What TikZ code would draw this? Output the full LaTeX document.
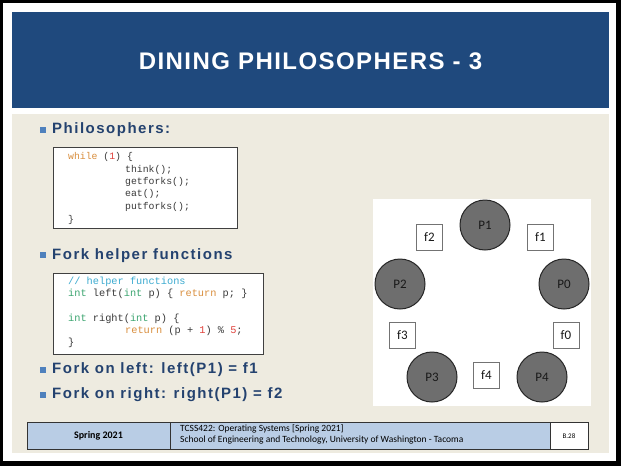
\documentclass[tikz,border=0pt]{standalone}
\usepackage{fontspec}
\setmainfont{Carlito}
\newfontfamily\titlefont[LetterSpace=6]{Liberation Sans}
\newfontfamily\headfont[LetterSpace=10]{Liberation Sans}
\newfontfamily\codefont{Liberation Mono}

\definecolor{titleblue}{HTML}{1F497D}
\definecolor{paper}{HTML}{EEEBE0}
\definecolor{headtext}{HTML}{24426F}
\definecolor{bulletblue}{HTML}{4F81BD}
\definecolor{footblue}{HTML}{B9CDE5}
\definecolor{philgray}{HTML}{6E6E6E}
\definecolor{kwd}{HTML}{D98E3D}
\definecolor{num}{HTML}{E0403A}
\definecolor{typ}{HTML}{3CA570}
\definecolor{cmt}{HTML}{3BAAD0}
\definecolor{codetext}{HTML}{3A3A3A}

\tikzset{
  heading/.style={anchor=west, inner sep=0pt, text=headtext,
    font=\headfont\bfseries\fontsize{15}{18}\selectfont},
  bulletsq/.style={fill=bulletblue, minimum size=5.5pt, inner sep=0pt},
  codebox/.style={draw=black!75, fill=white, line width=0.8pt},
  codeline/.style={anchor=west, inner sep=0pt, text=codetext,
    font=\codefont\fontsize{9.8}{11}\selectfont},
  codeline2/.style={codeline, font=\codefont\fontsize{10.3}{11}\selectfont},
  phil/.style={circle, draw=black!85, line width=1pt, fill=philgray,
    minimum size=50pt, inner sep=0pt, text=black!90,
    font=\fontsize{13}{15}\selectfont},
  fork/.style={draw=black!55, line width=0.8pt, fill=white,
    minimum size=26pt, inner sep=0pt, text=black!90,
    font=\fontsize{13}{15}\selectfont},
  footcell/.style={draw=black!80, line width=0.8pt},
}

\begin{document}
\begin{tikzpicture}[x=1pt, y=-1pt]
\useasboundingbox (0,0) rectangle (621,466);

% frame and slide background
\fill[black] (0,0) rectangle (621,466);
\fill[white] (3,3) rectangle (616,461);
\fill[titleblue] (12,12) rectangle (609,108);
\fill[paper] (12,114) rectangle (609,453);

\node[text=white, font=\titlefont\bfseries\fontsize{24}{28}\selectfont] (title) at (310.5,61.5) {DINING PHILOSOPHERS - 3};

% bullet list
\node[bulletsq] (b1) at (43,130) {};
\node[heading] (h1) at (52,130) {Philosophers:};

\draw[codebox] (53,147) rectangle (237,228);
\node[codeline] (c11) at (68,157) {\textcolor{kwd}{while} (\textcolor{num}{1}) \{};
\node[codeline] (c12) at (125,170) {think();};
\node[codeline] (c13) at (125,182) {getforks();};
\node[codeline] (c14) at (125,194) {eat();};
\node[codeline] (c15) at (125,207) {putforks();};
\node[codeline] (c16) at (68,220) {\}};

\node[bulletsq] (b2) at (43,255) {};
\node[heading] (h2) at (52,256) {Fork helper functions};

\draw[codebox] (53,273) rectangle (263,354);
\node[codeline2, text=cmt] (c21) at (68,282) {// helper functions};
\node[codeline2] (c22) at (68,294) {\textcolor{typ}{int} left(\textcolor{typ}{int} p) \{ \textcolor{kwd}{return} p; \}};
\node[codeline2] (c23) at (68,319) {\textcolor{typ}{int} right(\textcolor{typ}{int} p) \{};
\node[codeline2] (c24) at (125,331) {\textcolor{kwd}{return} (p + \textcolor{num}{1}) \% \textcolor{num}{5};};
\node[codeline2] (c25) at (68,343) {\}};

\node[bulletsq] (b3) at (43,370) {};
\node[heading] (h3) at (52,370) {Fork on left: left(P1) = f1};
\node[bulletsq] (b4) at (43,395) {};
\node[heading] (h4) at (52,395) {Fork on right: right(P1) = f2};

% philosophers around the table
\fill[white] (373,199) rectangle (591,406);
\node[phil] (p1) at (485,225) {P1};
\node[phil] (p0) at (564,284) {P0};
\node[phil] (p2) at (400,284) {P2};
\node[phil] (p3) at (432,377) {P3};
\node[phil] (p4) at (542,377) {P4};
\node[fork] (f2) at (429.5,237.5) {f2};
\node[fork] (f1) at (540.5,237.5) {f1};
\node[fork] (f3) at (402.5,335.5) {f3};
\node[fork] (f0) at (566,335.5) {f0};
\node[fork] (f4) at (486.5,375) {f4};

% footer
\draw[footcell, fill=footblue] (27,422) rectangle (170,449);
\draw[footcell, fill=footblue] (170,422) rectangle (550,449);
\draw[footcell, fill=white] (550,422) rectangle (588,449);
\node[font=\bfseries\fontsize{10}{12}\selectfont] (ft1) at (98.5,436) {Spring 2021};
\node[anchor=west, inner sep=0pt, font=\fontsize{9.5}{11}\selectfont] (ft2) at (180,428.5) {TCSS422: Operating Systems [Spring 2021]};
\node[anchor=west, inner sep=0pt, font=\fontsize{9.5}{11}\selectfont] (ft3) at (180,440.5) {School of Engineering and Technology, University of Washington - Tacoma};
\node[font=\fontsize{7}{8}\selectfont] (ft4) at (569,436) {B.28};
\end{tikzpicture}
\end{document}
